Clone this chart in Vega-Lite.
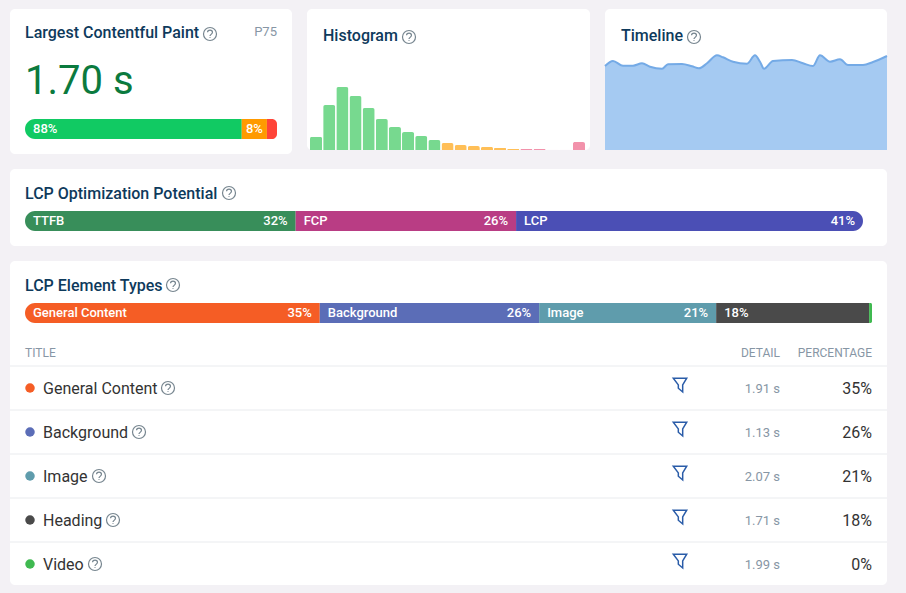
{
"$schema":"https://vega.github.io/schema/vega-lite/v6.json",
"background":"#f3f1f5",
"padding":{"left":9,"top":9,"right":19,"bottom":8},
"spacing":15,
"resolve":{"scale":{"color":"independent"}},
"config":{
 "font":"Roboto",
 "view":{"fill":"#ffffff","stroke":null,"cornerRadius":5},
 "title":{"font":"Roboto","fontSize":16,"fontWeight":500,"color":"#0e3a5c","anchor":"start","frame":"group"},
 "text":{"font":"Roboto"}
},
"datasets":{
 "types":[
  {"type":"General Content","share":0.348,"detail":"1.91 s"},
  {"type":"Background","share":0.259,"detail":"1.13 s"},
  {"type":"Image","share":0.209,"detail":"2.07 s"},
  {"type":"Heading","share":0.1806,"detail":"1.71 s"},
  {"type":"Video","share":0.0034,"detail":"1.99 s"}
 ],
 "one":[{"help":"?"}]
},
"vconcat":[
 {"spacing":15,"bounds":"flush","resolve":{"scale":{"color":"independent"}},"hconcat":[
  {"width":282,"height":145,
   "title":{"text":"Largest Contentful Paint","dx":15,"offset":-32},
   "resolve":{"scale":{"x":"independent","y":"independent"}},
   "layer":[
    {"data":{"name":"one"},"mark":{"type":"point","shape":"M-1 0A1 1 0 1 1 1 0A1 1 0 1 1 -1 0M-.38 -.28C-.38 -.72 .38 -.72 .38 -.28C.38 .05 0 .05 0 .32M0 .5L0 .62","filled":false,"stroke":"#76858f","strokeWidth":1.2,"size":169,"opacity":1},
     "encoding":{"x":{"datum":"i","type":"nominal","scale":{"type":"point","domain":["i"],"range":[200,200]},"axis":null},"y":{"datum":"i","type":"nominal","scale":{"type":"point","domain":["i"],"range":[25,25]},"axis":null}}},
    {"data":{"values":[{"label":"P75"}]},"mark":{"type":"text","align":"right","baseline":"middle","fontSize":13,"color":"#8796a5"},
     "encoding":{"text":{"field":"label"},"x":{"datum":"p","type":"nominal","scale":{"type":"point","domain":["p"],"range":[267,267]},"axis":null},"y":{"datum":"p","type":"nominal","scale":{"type":"point","domain":["p"],"range":[23,23]},"axis":null}}},
    {"data":{"values":[{"label":"1.70 s"}]},"mark":{"type":"text","align":"left","baseline":"alphabetic","fontSize":40,"color":"#0b7a3e"},
     "encoding":{"text":{"field":"label"},"x":{"datum":"v","type":"nominal","scale":{"type":"point","domain":["v"],"range":[15,15]},"axis":null},"y":{"datum":"v","type":"nominal","scale":{"type":"point","domain":["v"],"range":[85,85]},"axis":null}}},
    {"data":{"values":[
      {"rating":"Good","share":0.86,"order":0,"label":"88%"},
      {"rating":"Needs improvement","share":0.10,"order":1,"label":"8%"},
      {"rating":"Poor","share":0.04,"order":2,"label":""}]},
     "transform":[{"stack":"share","groupby":[],"sort":[{"field":"order","order":"ascending"}],"as":["start","end"]}],
     "encoding":{
      "x":{"field":"start","type":"quantitative","scale":{"domain":[0,1],"range":[15,267]},"axis":null},
      "y":{"datum":"bar","type":"nominal","scale":{"type":"band","domain":["bar"],"range":[110,130],"paddingInner":0,"paddingOuter":0},"axis":null}},
     "layer":[
      {"transform":[{"filter":"datum.order==0"}],"mark":{"type":"rect","color":"#11ca63","cornerRadiusTopLeft":10,"cornerRadiusBottomLeft":10},"encoding":{"x2":{"field":"end"}}},
      {"transform":[{"filter":"datum.order==1"}],"mark":{"type":"rect","color":"#ff9a00"},"encoding":{"x2":{"field":"end"}}},
      {"transform":[{"filter":"datum.order==2"}],"mark":{"type":"rect","color":"#ff4438","cornerRadiusTopRight":10,"cornerRadiusBottomRight":10},"encoding":{"x2":{"field":"end"}}},
      {"transform":[{"filter":"datum.order==0"}],"mark":{"type":"text","align":"left","baseline":"middle","dx":8,"fontSize":13,"fontWeight":500,"color":"#ffffff"},"encoding":{"text":{"field":"label"}}},
      {"transform":[{"filter":"datum.order==1"}],"mark":{"type":"text","align":"right","baseline":"middle","dx":-4,"fontSize":13,"fontWeight":500,"color":"#ffffff"},"encoding":{"text":{"field":"label"},"x":{"field":"end","type":"quantitative"}}}
     ]}
   ]},
  {"width":283,"height":141,
   "title":{"text":"Histogram","dx":16,"offset":-35},
   "resolve":{"scale":{"x":"independent","y":"independent"}},
   "layer":[
    {"data":{"name":"one"},"mark":{"type":"point","shape":"M-1 0A1 1 0 1 1 1 0A1 1 0 1 1 -1 0M-.38 -.28C-.38 -.72 .38 -.72 .38 -.28C.38 .05 0 .05 0 .32M0 .5L0 .62","filled":false,"stroke":"#76858f","strokeWidth":1.2,"size":169,"opacity":1},
     "encoding":{"x":{"datum":"i","type":"nominal","scale":{"type":"point","domain":["i"],"range":[102,102]},"axis":null},"y":{"datum":"i","type":"nominal","scale":{"type":"point","domain":["i"],"range":[28,28]},"axis":null}}},
    {"data":{"values":[
      {"bin":1,"count":13.3,"rating":"good"},{"bin":2,"count":45,"rating":"good"},{"bin":3,"count":63,"rating":"good"},{"bin":4,"count":54,"rating":"good"},{"bin":5,"count":42,"rating":"good"},{"bin":6,"count":31,"rating":"good"},{"bin":7,"count":23,"rating":"good"},{"bin":8,"count":18,"rating":"good"},{"bin":9,"count":14,"rating":"good"},{"bin":10,"count":10,"rating":"good"},
      {"bin":11,"count":7,"rating":"needs"},{"bin":12,"count":5,"rating":"needs"},{"bin":13,"count":4,"rating":"needs"},{"bin":14,"count":3,"rating":"needs"},{"bin":15,"count":2,"rating":"needs"},{"bin":16,"count":1,"rating":"needs"},
      {"bin":17,"count":1,"rating":"poor"},{"bin":18,"count":1,"rating":"poor"},{"bin":19,"count":0.3,"rating":"poor"},{"bin":20,"count":0.3,"rating":"poor"},{"bin":21,"count":8,"rating":"poor"}]},
     "mark":{"type":"bar","cornerRadiusTopLeft":2,"cornerRadiusTopRight":2},
     "encoding":{
      "x":{"field":"bin","type":"ordinal","scale":{"type":"band","range":[3,278],"paddingInner":0.08,"paddingOuter":0},"axis":null},
      "y":{"field":"count","type":"quantitative","scale":{"domain":[0,63],"range":[141,78]},"axis":null},
      "color":{"field":"rating","type":"nominal","scale":{"domain":["good","needs","poor"],"range":["#77d98f","#ffbf57","#f292ab"]},"legend":null}}}
   ]},
  {"width":282,"height":141,
   "title":{"text":"Timeline","dx":16,"offset":-35},
   "resolve":{"scale":{"x":"independent","y":"independent"}},
   "layer":[
    {"data":{"name":"one"},"mark":{"type":"point","shape":"M-1 0A1 1 0 1 1 1 0A1 1 0 1 1 -1 0M-.38 -.28C-.38 -.72 .38 -.72 .38 -.28C.38 .05 0 .05 0 .32M0 .5L0 .62","filled":false,"stroke":"#76858f","strokeWidth":1.2,"size":169,"opacity":1},
     "encoding":{"x":{"datum":"i","type":"nominal","scale":{"type":"point","domain":["i"],"range":[89,89]},"axis":null},"y":{"datum":"i","type":"nominal","scale":{"type":"point","domain":["i"],"range":[28,28]},"axis":null}}},
    {"data":{"values":[
      {"t":0,"v":84},{"t":8,"v":89},{"t":18,"v":84.3},{"t":28,"v":84.3},{"t":37,"v":86.7},{"t":45,"v":83.3},{"t":57,"v":81.3},{"t":63,"v":85.7},{"t":77,"v":86},{"t":87,"v":83.7},{"t":94,"v":81.7},{"t":102,"v":86.7},{"t":112,"v":94.7},{"t":118,"v":92.7},{"t":128,"v":88.3},{"t":142,"v":86.3},{"t":150,"v":94.7},{"t":155,"v":88.3},{"t":159,"v":81.3},{"t":168,"v":89},{"t":187,"v":90},{"t":198,"v":86.7},{"t":208,"v":84},{"t":215,"v":94.7},{"t":225,"v":88.3},{"t":235,"v":90.7},{"t":243,"v":85},{"t":258,"v":85},{"t":268,"v":88},{"t":282,"v":94}]},
     "encoding":{
      "x":{"field":"t","type":"quantitative","scale":{"domain":[0,282],"nice":false},"axis":null},
      "y":{"field":"v","type":"quantitative","scale":{"domain":[0,141],"nice":false},"axis":null}},
     "layer":[
      {"mark":{"type":"area","color":"#a5caf2","interpolate":"monotone"}},
      {"mark":{"type":"line","color":"#74aae6","strokeWidth":2,"interpolate":"monotone"}}
     ]}
   ]}
 ]},
 {"width":877,"height":77,
  "title":{"text":"LCP Optimization Potential","dx":15,"offset":-33},
  "resolve":{"scale":{"x":"independent","y":"independent"}},
  "layer":[
   {"data":{"name":"one"},"mark":{"type":"point","shape":"M-1 0A1 1 0 1 1 1 0A1 1 0 1 1 -1 0M-.38 -.28C-.38 -.72 .38 -.72 .38 -.28C.38 .05 0 .05 0 .32M0 .5L0 .62","filled":false,"stroke":"#76858f","strokeWidth":1.2,"size":169,"opacity":1},
    "encoding":{"x":{"datum":"i","type":"nominal","scale":{"type":"point","domain":["i"],"range":[219,219]},"axis":null},"y":{"datum":"i","type":"nominal","scale":{"type":"point","domain":["i"],"range":[24,24]},"axis":null}}},
   {"data":{"values":[
     {"phase":"TTFB","share":0.323,"order":0},
     {"phase":"FCP","share":0.263,"order":1},
     {"phase":"LCP","share":0.414,"order":2}]},
    "transform":[{"stack":"share","groupby":[],"sort":[{"field":"order","order":"ascending"}],"as":["start","end"]}],
    "encoding":{
     "x":{"field":"start","type":"quantitative","scale":{"domain":[0,1],"range":[15,853]},"axis":null},
     "y":{"datum":"bar","type":"nominal","scale":{"type":"band","domain":["bar"],"range":[42,62],"paddingInner":0,"paddingOuter":0},"axis":null}},
    "layer":[
     {"transform":[{"filter":"datum.order==0"}],"mark":{"type":"rect","color":"#388e5a","cornerRadiusTopLeft":10,"cornerRadiusBottomLeft":10},"encoding":{"x2":{"field":"end"}}},
     {"transform":[{"filter":"datum.order==1"}],"mark":{"type":"rect","color":"#b93d84"},"encoding":{"x2":{"field":"end"}}},
     {"transform":[{"filter":"datum.order==2"}],"mark":{"type":"rect","color":"#4b4fb5","cornerRadiusTopRight":10,"cornerRadiusBottomRight":10},"encoding":{"x2":{"field":"end"}}},
     {"mark":{"type":"text","align":"left","baseline":"middle","dx":8,"fontSize":13,"fontWeight":500,"color":"#ffffff"},"encoding":{"text":{"field":"phase"}}},
     {"mark":{"type":"text","align":"right","baseline":"middle","dx":-8,"fontSize":13,"fontWeight":500,"color":"#ffffff"},"encoding":{"text":{"field":"share","type":"quantitative","format":".0%"},"x":{"field":"end","type":"quantitative"}}}
    ]}
  ]},
 {"width":877,"height":324,
  "title":{"text":"LCP Element Types","dx":15,"offset":-33},
  "resolve":{"scale":{"x":"independent","y":"independent"}},
  "layer":[
   {"data":{"name":"one"},"mark":{"type":"point","shape":"M-1 0A1 1 0 1 1 1 0A1 1 0 1 1 -1 0M-.38 -.28C-.38 -.72 .38 -.72 .38 -.28C.38 .05 0 .05 0 .32M0 .5L0 .62","filled":false,"stroke":"#76858f","strokeWidth":1.2,"size":169,"opacity":1},
    "encoding":{"x":{"datum":"i","type":"nominal","scale":{"type":"point","domain":["i"],"range":[163,163]},"axis":null},"y":{"datum":"i","type":"nominal","scale":{"type":"point","domain":["i"],"range":[24,24]},"axis":null}}},
   {"data":{"name":"types"},
    "transform":[
     {"stack":"share","groupby":[],"sort":[{"field":"share","order":"descending"}],"as":["start","end"]}],
    "encoding":{
     "x":{"field":"start","type":"quantitative","scale":{"domain":[0,1],"range":[15,862]},"axis":null},
     "y":{"datum":"bar","type":"nominal","scale":{"type":"band","domain":["bar"],"range":[42,62],"paddingInner":0,"paddingOuter":0},"axis":null}},
    "layer":[
     {"transform":[{"filter":"datum.type=='General Content'"}],"mark":{"type":"rect","color":"#f55d25","cornerRadiusTopLeft":10,"cornerRadiusBottomLeft":10},"encoding":{"x2":{"field":"end"}}},
     {"transform":[{"filter":"datum.type=='Background'"}],"mark":{"type":"rect","color":"#5b6db7"},"encoding":{"x2":{"field":"end"}}},
     {"transform":[{"filter":"datum.type=='Image'"}],"mark":{"type":"rect","color":"#5f9cac"},"encoding":{"x2":{"field":"end"}}},
     {"transform":[{"filter":"datum.type=='Heading'"}],"mark":{"type":"rect","color":"#4a4a4a"},"encoding":{"x2":{"field":"end"}}},
     {"transform":[{"filter":"datum.type=='Video'"}],"mark":{"type":"rect","color":"#3fb950","cornerRadiusTopRight":3,"cornerRadiusBottomRight":3},"encoding":{"x2":{"field":"end"}}},
     {"transform":[{"filter":"datum.share>0.2"}],"mark":{"type":"text","align":"left","baseline":"middle","dx":8,"fontSize":13,"fontWeight":500,"color":"#ffffff"},"encoding":{"text":{"field":"type"}}},
     {"transform":[{"filter":"datum.share>0.2"}],"mark":{"type":"text","align":"right","baseline":"middle","dx":-8,"fontSize":13,"fontWeight":500,"color":"#ffffff"},"encoding":{"text":{"field":"share","type":"quantitative","format":".0%"},"x":{"field":"end","type":"quantitative"}}},
     {"transform":[{"filter":"datum.type=='Heading'"}],"mark":{"type":"text","align":"left","baseline":"middle","dx":8,"fontSize":13,"fontWeight":500,"color":"#ffffff"},"encoding":{"text":{"field":"share","type":"quantitative","format":".0%"}}}
    ]},
   {"data":{"values":[{"label":"TITLE"}]},"mark":{"type":"text","align":"left","baseline":"middle","fontSize":12,"color":"#8796a5"},
    "encoding":{"text":{"field":"label"},"x":{"datum":"h","type":"nominal","scale":{"type":"point","domain":["h"],"range":[15,15]},"axis":null},"y":{"datum":"h","type":"nominal","scale":{"type":"point","domain":["h"],"range":[92,92]},"axis":null}}},
   {"data":{"values":[{"label":"DETAIL"},{"label":"PERCENTAGE"}]},"mark":{"type":"text","align":"right","baseline":"middle","fontSize":12,"color":"#8796a5"},
    "encoding":{"text":{"field":"label"},"x":{"field":"label","type":"nominal","scale":{"type":"point","domain":["DETAIL","PERCENTAGE"],"range":[770,862],"padding":0},"axis":null},"y":{"datum":"h","type":"nominal","scale":{"type":"point","domain":["h"],"range":[92,92]},"axis":null}}},
   {"data":{"name":"types"},
    "encoding":{"y":{"field":"type","type":"nominal","scale":{"type":"band","domain":["General Content","Background","Image","Heading","Video"],"range":[105,325],"paddingInner":0,"paddingOuter":0},"axis":null}},
    "resolve":{"scale":{"x":"independent"}},
    "layer":[
     {"mark":{"type":"rule","color":"#e9ebee","strokeWidth":1},"encoding":{"y":{"field":"type","type":"nominal","bandPosition":0,"scale":{"type":"band","domain":["General Content","Background","Image","Heading","Video"],"range":[105,325],"paddingInner":0,"paddingOuter":0},"axis":null}}},
     {"mark":{"type":"circle","size":90,"opacity":1},"encoding":{"x":{"datum":"d","type":"nominal","scale":{"type":"point","domain":["d"],"range":[20,20]},"axis":null},"color":{"field":"type","type":"nominal","scale":{"domain":["General Content","Background","Image","Heading","Video"],"range":["#f55d25","#5b6db7","#5f9cac","#4a4a4a","#3fb950"]},"legend":null}}},
     {"mark":{"type":"text","align":"left","baseline":"middle","dy":1,"fontSize":16,"color":"#333333"},"encoding":{"text":{"field":"type"},"x":{"datum":"n","type":"nominal","scale":{"type":"point","domain":["n"],"range":[33,33]},"axis":null}}},
     {"mark":{"type":"point","shape":"M-1 -1L1 -1L.4 0L.4 1.05L-.25 .5L-.25 0Z","filled":false,"stroke":"#2a5ca8","strokeWidth":1.5,"size":180,"opacity":1},"encoding":{"x":{"datum":"f","type":"nominal","scale":{"type":"point","domain":["f"],"range":[670,670]},"axis":null},"y":{"field":"type","type":"nominal","bandPosition":0.43,"scale":{"type":"band","domain":["General Content","Background","Image","Heading","Video"],"range":[105,325],"paddingInner":0,"paddingOuter":0},"axis":null}}},
     {"mark":{"type":"text","align":"right","baseline":"middle","dy":1,"fontSize":13,"color":"#8796a5"},"encoding":{"text":{"field":"detail"},"x":{"datum":"e","type":"nominal","scale":{"type":"point","domain":["e"],"range":[770,770]},"axis":null}}},
     {"mark":{"type":"text","align":"right","baseline":"middle","dy":1,"fontSize":16,"color":"#333333"},"encoding":{"text":{"field":"share","type":"quantitative","format":".0%"},"x":{"datum":"p","type":"nominal","scale":{"type":"point","domain":["p"],"range":[862,862]},"axis":null}}},
     {"transform":[{"filter":"datum.type=='General Content'"}],"mark":{"type":"point","shape":"M-1 0A1 1 0 1 1 1 0A1 1 0 1 1 -1 0M-.38 -.28C-.38 -.72 .38 -.72 .38 -.28C.38 .05 0 .05 0 .32M0 .5L0 .62","filled":false,"stroke":"#76858f","strokeWidth":1.2,"size":169,"opacity":1},"encoding":{"x":{"datum":"a","type":"nominal","scale":{"type":"point","domain":["a"],"range":[158,158]},"axis":null}}},
     {"transform":[{"filter":"datum.type=='Background'"}],"mark":{"type":"point","shape":"M-1 0A1 1 0 1 1 1 0A1 1 0 1 1 -1 0M-.38 -.28C-.38 -.72 .38 -.72 .38 -.28C.38 .05 0 .05 0 .32M0 .5L0 .62","filled":false,"stroke":"#76858f","strokeWidth":1.2,"size":169,"opacity":1},"encoding":{"x":{"datum":"b","type":"nominal","scale":{"type":"point","domain":["b"],"range":[129,129]},"axis":null}}},
     {"transform":[{"filter":"datum.type=='Image'"}],"mark":{"type":"point","shape":"M-1 0A1 1 0 1 1 1 0A1 1 0 1 1 -1 0M-.38 -.28C-.38 -.72 .38 -.72 .38 -.28C.38 .05 0 .05 0 .32M0 .5L0 .62","filled":false,"stroke":"#76858f","strokeWidth":1.2,"size":169,"opacity":1},"encoding":{"x":{"datum":"c","type":"nominal","scale":{"type":"point","domain":["c"],"range":[89,89]},"axis":null}}},
     {"transform":[{"filter":"datum.type=='Heading'"}],"mark":{"type":"point","shape":"M-1 0A1 1 0 1 1 1 0A1 1 0 1 1 -1 0M-.38 -.28C-.38 -.72 .38 -.72 .38 -.28C.38 .05 0 .05 0 .32M0 .5L0 .62","filled":false,"stroke":"#76858f","strokeWidth":1.2,"size":169,"opacity":1},"encoding":{"x":{"datum":"g","type":"nominal","scale":{"type":"point","domain":["g"],"range":[103,103]},"axis":null}}},
     {"transform":[{"filter":"datum.type=='Video'"}],"mark":{"type":"point","shape":"M-1 0A1 1 0 1 1 1 0A1 1 0 1 1 -1 0M-.38 -.28C-.38 -.72 .38 -.72 .38 -.28C.38 .05 0 .05 0 .32M0 .5L0 .62","filled":false,"stroke":"#76858f","strokeWidth":1.2,"size":169,"opacity":1},"encoding":{"x":{"datum":"j","type":"nominal","scale":{"type":"point","domain":["j"],"range":[85,85]},"axis":null}}}
    ]}
  ]}
]
}
